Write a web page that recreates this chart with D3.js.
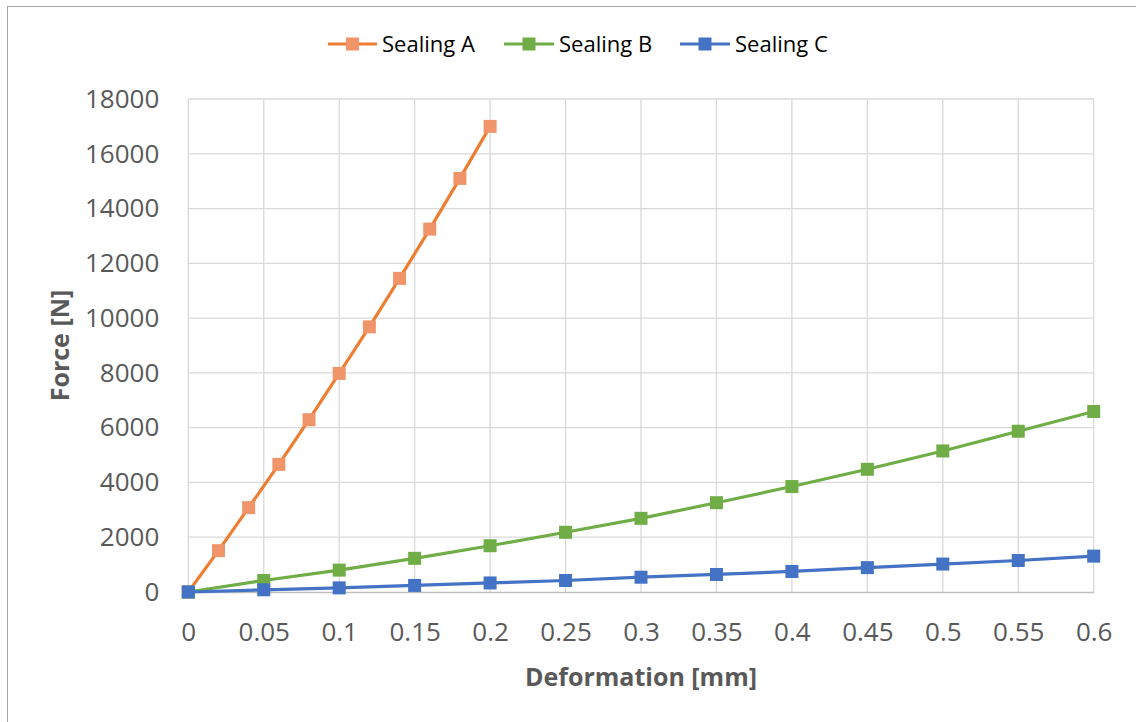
<!DOCTYPE html>
<html>
<head>
<meta charset="utf-8">
<script src="https://cdn.jsdelivr.net/npm/d3@7"></script>
<style>
  html, body { margin: 0; padding: 0; background: #fff; }
  svg { display: block; }
</style>
</head>
<body>
<svg id="chart" width="1136" height="722"></svg>
<script>
// ---- data ----
const seriesNames = ["Sealing A", "Sealing B", "Sealing C"];
const xA = [0, 0.02, 0.04, 0.06, 0.08, 0.1, 0.12, 0.14, 0.16, 0.18, 0.2];
const yA = [0, 1510, 3080, 4660, 6290, 7980, 9680, 11450, 13250, 15100, 17000];
const xB = [0, 0.05, 0.1, 0.15, 0.2, 0.25, 0.3, 0.35, 0.4, 0.45, 0.5, 0.55, 0.6];
const yB = [0, 420, 800, 1230, 1690, 2180, 2690, 3260, 3850, 4480, 5150, 5870, 6590];
const xC = [0, 0.05, 0.1, 0.15, 0.2, 0.25, 0.3, 0.35, 0.4, 0.45, 0.5, 0.55, 0.6];
const yC = [0, 80, 150, 240, 330, 420, 540, 640, 750, 890, 1020, 1150, 1310];
const xTicks = [0, 0.05, 0.1, 0.15, 0.2, 0.25, 0.3, 0.35, 0.4, 0.45, 0.5, 0.55, 0.6];
const xTickLabels = ["0", "0.05", "0.1", "0.15", "0.2", "0.25", "0.3", "0.35", "0.4", "0.45", "0.5", "0.55", "0.6"];
const yTicks = [0, 2000, 4000, 6000, 8000, 10000, 12000, 14000, 16000, 18000];
const xTitle = "Deformation [mm]";
const yTitle = "Force [N]";
const lineColors = ["#ED7D31", "#70AD47", "#4472C4"];
const markerColors = ["#F0956A", "#70AD47", "#4472C4"];

// ---- layout ----
const svg = d3.select("#chart");
const W = 1136, H = 722;
const plot = { left: 188.3, right: 1093.7, top: 99, bottom: 592 };
const font = "'Open Sans', 'Liberation Sans', sans-serif";

// frame
svg.append("rect").attr("x", 7.5).attr("y", 6.5).attr("width", W + 10).attr("height", H + 10)
  .attr("fill", "#fff").attr("stroke", "#a6a6a6").attr("stroke-width", 1);

const x = d3.scaleLinear().domain([0, 0.6]).range([plot.left, plot.right]);
const y = d3.scaleLinear().domain([0, 18000]).range([plot.bottom, plot.top]);

// gridlines
const g = svg.append("g");
g.append("g").selectAll("line").data(yTicks.filter(d => d > 0)).join("line")
  .attr("x1", plot.left).attr("x2", plot.right)
  .attr("y1", d => y(d)).attr("y2", d => y(d))
  .attr("stroke", "#d9d9d9").attr("stroke-width", 1.3);
g.append("g").selectAll("line").data(xTicks).join("line")
  .attr("x1", d => x(d)).attr("x2", d => x(d))
  .attr("y1", plot.top).attr("y2", plot.bottom)
  .attr("stroke", "#d9d9d9").attr("stroke-width", 1.3);

// x axis
const xAxis = d3.axisBottom(x).tickValues(xTicks)
  .tickFormat((d, i) => xTickLabels[i]).tickSize(0).tickPadding(31);
const xg = svg.append("g").attr("transform", `translate(0,${plot.bottom})`).call(xAxis);
xg.select(".domain").attr("stroke", "#bfbfbf").attr("stroke-width", 1.3);
xg.selectAll("text").attr("font-family", font).attr("font-size", 26).attr("fill", "#595959");

// y axis
const yAxis = d3.axisLeft(y).tickValues(yTicks).tickFormat(d3.format("d")).tickSize(0).tickPadding(29);
const yg = svg.append("g").attr("transform", `translate(${plot.left},0)`).call(yAxis);
yg.select(".domain").remove();
yg.selectAll("text").attr("font-family", font).attr("font-size", 26).attr("fill", "#595959");

// axis titles
svg.append("text").attr("x", (plot.left + plot.right) / 2).attr("y", 686)
  .attr("text-anchor", "middle").attr("font-family", font).attr("font-weight", "bold")
  .attr("font-size", 25).attr("fill", "#595959").text(xTitle);
svg.append("text").attr("transform", `translate(69,${(plot.top + plot.bottom) / 2}) rotate(-90)`)
  .attr("text-anchor", "middle").attr("font-family", font).attr("font-weight", "bold")
  .attr("font-size", 25).attr("fill", "#595959").text(yTitle);

// series
const series = [
  xA.map((v, i) => [v, yA[i]]),
  xB.map((v, i) => [v, yB[i]]),
  xC.map((v, i) => [v, yC[i]])
];
const line = d3.line().x(d => x(d[0])).y(d => y(d[1]));
const ms = 13;
// draw order: C, B, A so that A is top? In reference blue markers on top at origin.
[0, 1, 2].forEach(k => {
  const sg = svg.append("g");
  sg.append("path").datum(series[k]).attr("d", line)
    .attr("fill", "none").attr("stroke", lineColors[k]).attr("stroke-width", 3.2)
    .attr("stroke-linejoin", "round");
  sg.selectAll("rect").data(series[k]).join("rect")
    .attr("x", d => x(d[0]) - ms / 2).attr("y", d => y(d[1]) - ms / 2)
    .attr("width", ms).attr("height", ms).attr("fill", markerColors[k]);
});

// legend
const legendItems = [
  { x0: 328, tx: 382 },
  { x0: 504, tx: 559 },
  { x0: 680, tx: 735 }
];
const ly = 44;
legendItems.forEach((it, k) => {
  const lg = svg.append("g");
  lg.append("line").attr("x1", it.x0).attr("x2", it.tx - 5).attr("y1", ly).attr("y2", ly)
    .attr("stroke", lineColors[k]).attr("stroke-width", 3.2);
  const cx = (it.x0 + it.tx - 5) / 2;
  lg.append("rect").attr("x", cx - 6.5).attr("y", ly - 6.5).attr("width", 13).attr("height", 13)
    .attr("fill", markerColors[k]);
  lg.append("text").attr("x", it.tx).attr("y", ly).attr("dy", "0.36em")
    .attr("font-family", font).attr("font-size", 22).attr("fill", "#000").text(seriesNames[k]);
});
</script>
</body>
</html>
